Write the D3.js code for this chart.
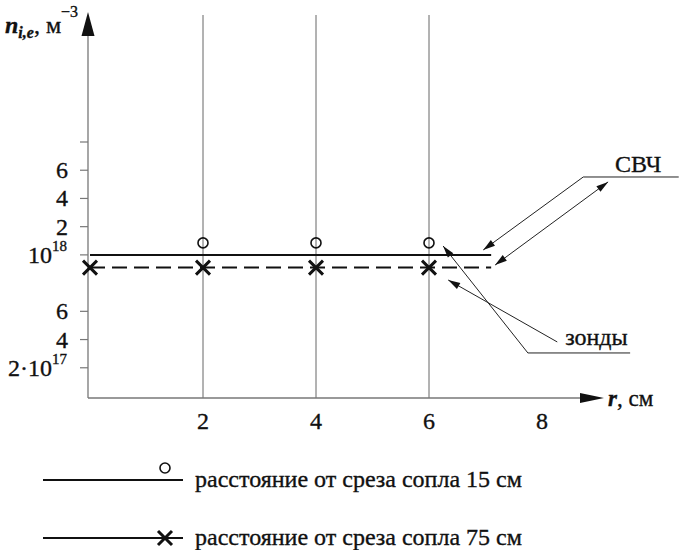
<!DOCTYPE html>
<html>
<head>
<meta charset="utf-8">
<script src="https://cdn.jsdelivr.net/npm/d3@7"></script>
<style>
  body { margin: 0; background: #fff; }
  svg { display: block; font-family: "Liberation Serif", "DejaVu Serif", serif; }
  svg text { stroke: #111; stroke-width: 0.35px; }
</style>
</head>
<body>
<div id="chart"></div>
<script>
// Values in units of 10^17 m^-3, radius r in cm.
const rProbe15 = [2, 4, 6];
const nProbe15 = [10.85, 10.85, 10.85];
const rProbe75 = [0, 2, 4, 6];
const nProbe75 = [9.1, 9.1, 9.1, 9.1];
const rMw = [0, 7.1];
const nMw15 = [10, 10];
const nMw75 = [9.1, 9.1];

const xTicks = [2, 4, 6, 8];
const yTicks = [2, 4, 6, 10, 12, 14, 16, 18];
const yTickMain = ['2·10', '4', '6', '10', '2', '4', '6', ''];
const yTickSup = ['17', '', '', '18', '', '', '', ''];

const legendLabels = ['расстояние от среза сопла 15 см', 'расстояние от среза сопла 75 см'];

// Callout leaders, in data units [r, n]
const mwLeader = [[10.42, 15.52], [8.73, 15.52], [6.96, 10.35]];
const mwArrow2 = [[7.17, 9.28], [9.17, 15.17]];
const probeLeader = [[9.56, 3.05], [7.75, 3.05], [6.25, 10.63]];
const probeArrow2 = [[8.27, 3.83], [6.34, 8.22]];

const width = 679, height = 550;
const svg = d3.select('#chart').append('svg')
    .attr('width', width)
    .attr('height', height);

const x = d3.scaleLinear().domain([0, 8]).range([90, 542]);
const y = d3.scaleLinear().domain([0, 18]).range([396, 142]);
const axisX = 88, axisY = 398;
const ink = '#111';

// Arrowhead helper: filled triangle pointing from (x0,y0) towards (x1,y1)
function arrowHead(g, x0, y0, x1, y1, len, half) {
    const a = Math.atan2(y1 - y0, x1 - x0);
    const bx = x1 - len * Math.cos(a), by = y1 - len * Math.sin(a);
    const px = -Math.sin(a) * half, py = Math.cos(a) * half;
    g.append('path')
        .attr('d', `M${x1},${y1}L${bx + px},${by + py}L${bx - px},${by - py}Z`)
        .attr('fill', ink);
}

// Vertical grid lines
svg.append('g')
    .selectAll('line')
    .data([2, 4, 6])
    .join('line')
        .attr('x1', d => x(d)).attr('x2', d => x(d))
        .attr('y1', axisY).attr('y2', 15)
        .attr('stroke', '#666')
        .attr('stroke-width', 1);

// Axes
const axes = svg.append('g');
axes.append('line')
    .attr('x1', axisX).attr('x2', axisX)
    .attr('y1', axisY).attr('y2', 30)
    .attr('stroke', '#777').attr('stroke-width', 1.3);
arrowHead(axes, axisX, 60, axisX, 12, 24, 6.5);
axes.append('line')
    .attr('x1', axisX).attr('x2', 585)
    .attr('y1', axisY).attr('y2', axisY)
    .attr('stroke', '#777').attr('stroke-width', 1.3);
arrowHead(axes, 560, axisY, 604, axisY, 24, 5);

// Y ticks
const yt = axes.append('g')
    .selectAll('g')
    .data(yTicks)
    .join('g')
        .attr('transform', d => `translate(0,${y(d)})`);
yt.append('line')
    .attr('x1', axisX - 8).attr('x2', axisX)
    .attr('stroke', '#777').attr('stroke-width', 1.2);
yt.each(function(d, i) {
    const g = d3.select(this);
    const t = g.append('text')
        .attr('text-anchor', 'end')
        .attr('y', 8)
        .attr('font-size', 24)
        .attr('fill', ink);
    if (yTickSup[i]) {
        t.attr('x', 52).text(yTickMain[i]);
        g.append('text')
            .attr('x', 52).attr('y', -4)
            .attr('font-size', 15)
            .attr('fill', ink)
            .text(yTickSup[i]);
    } else {
        t.attr('x', 68).text(yTickMain[i]);
    }
});

// X tick labels
axes.append('g')
    .selectAll('text')
    .data(xTicks)
    .join('text')
        .attr('x', d => x(d))
        .attr('y', 429)
        .attr('text-anchor', 'middle')
        .attr('font-size', 24)
        .attr('fill', ink)
        .text(d => d);

// Axis titles
const xt = axes.append('text')
    .attr('x', 608).attr('y', 406)
    .attr('font-size', 23)
    .attr('fill', ink);
xt.append('tspan').attr('font-style', 'italic').attr('font-weight', 'bold').text('r');
xt.append('tspan').text(', см');

const ytl = axes.append('text')
    .attr('x', 5).attr('y', 33)
    .attr('font-size', 24)
    .attr('fill', ink);
ytl.append('tspan').attr('font-style', 'italic').attr('font-weight', 'bold').text('n');
ytl.append('tspan').attr('font-style', 'italic').attr('font-weight', 'bold')
    .attr('font-size', 16).attr('dy', 5).text('i,e');
ytl.append('tspan').attr('dy', -5).text(', м');
ytl.append('tspan').attr('font-size', 16).attr('dy', -16).text('−3');

// Lines
const line = d3.line().x(d => x(d[0])).y(d => y(d[1]));
svg.append('path')
    .datum(rMw.map((r, i) => [r, nMw15[i]]))
    .attr('d', line)
    .attr('fill', 'none')
    .attr('stroke', ink)
    .attr('stroke-width', 2);
svg.append('path')
    .datum(rMw.map((r, i) => [r, nMw75[i]]))
    .attr('d', line)
    .attr('fill', 'none')
    .attr('stroke', ink)
    .attr('stroke-width', 2)
    .attr('stroke-dasharray', '15,7');

// Markers
function drawCircle(g, cx, cy) {
    g.append('circle')
        .attr('cx', cx).attr('cy', cy).attr('r', 5)
        .attr('fill', 'none')
        .attr('stroke', ink)
        .attr('stroke-width', 1.6);
}
function drawCross(g, cx, cy) {
    const s = 7;
    g.append('path')
        .attr('d', `M${cx - s},${cy - s}L${cx + s},${cy + s}M${cx - s},${cy + s}L${cx + s},${cy - s}`)
        .attr('stroke', ink)
        .attr('stroke-width', 3);
}
const marks = svg.append('g');
rProbe15.forEach((r, i) => drawCircle(marks, x(r), y(nProbe15[i])));
rProbe75.forEach((r, i) => drawCross(marks, x(r), y(nProbe75[i])));

// Callouts
const callouts = svg.append('g');
function leader(pts, headEnd, headStart) {
    const p = pts.map(d => [x(d[0]), y(d[1])]);
    callouts.append('path')
        .attr('d', d3.line()(p))
        .attr('fill', 'none')
        .attr('stroke', '#222')
        .attr('stroke-width', 1);
    const n = p.length;
    if (headEnd) arrowHead(callouts, p[n - 2][0], p[n - 2][1], p[n - 1][0], p[n - 1][1], 12, 3.5);
    if (headStart) arrowHead(callouts, p[1][0], p[1][1], p[0][0], p[0][1], 12, 3.5);
}
leader(mwLeader, true, false);
leader(mwArrow2, true, true);
leader(probeLeader, true, false);
leader(probeArrow2, true, false);

callouts.append('text')
    .attr('x', x(9.29)).attr('y', y(15.87))
    .attr('font-size', 24)
    .attr('fill', ink)
    .text('СВЧ');
callouts.append('text')
    .attr('x', x(8.41)).attr('y', y(3.61))
    .attr('font-size', 24)
    .attr('fill', ink)
    .text('зонды');

// Legend
const legend = svg.append('g');
const legendY = [480, 538];
legendY.forEach((ly, i) => {
    legend.append('line')
        .attr('x1', 43).attr('x2', 183)
        .attr('y1', ly).attr('y2', ly)
        .attr('stroke', ink).attr('stroke-width', 2);
    if (i === 0) drawCircle(legend, 165, ly - 12);
    else drawCross(legend, 165, ly);
    legend.append('text')
        .attr('x', 195).attr('y', ly + 7)
        .attr('font-size', 24)
        .attr('fill', ink)
        .text(legendLabels[i]);
});
</script>
</body>
</html>
